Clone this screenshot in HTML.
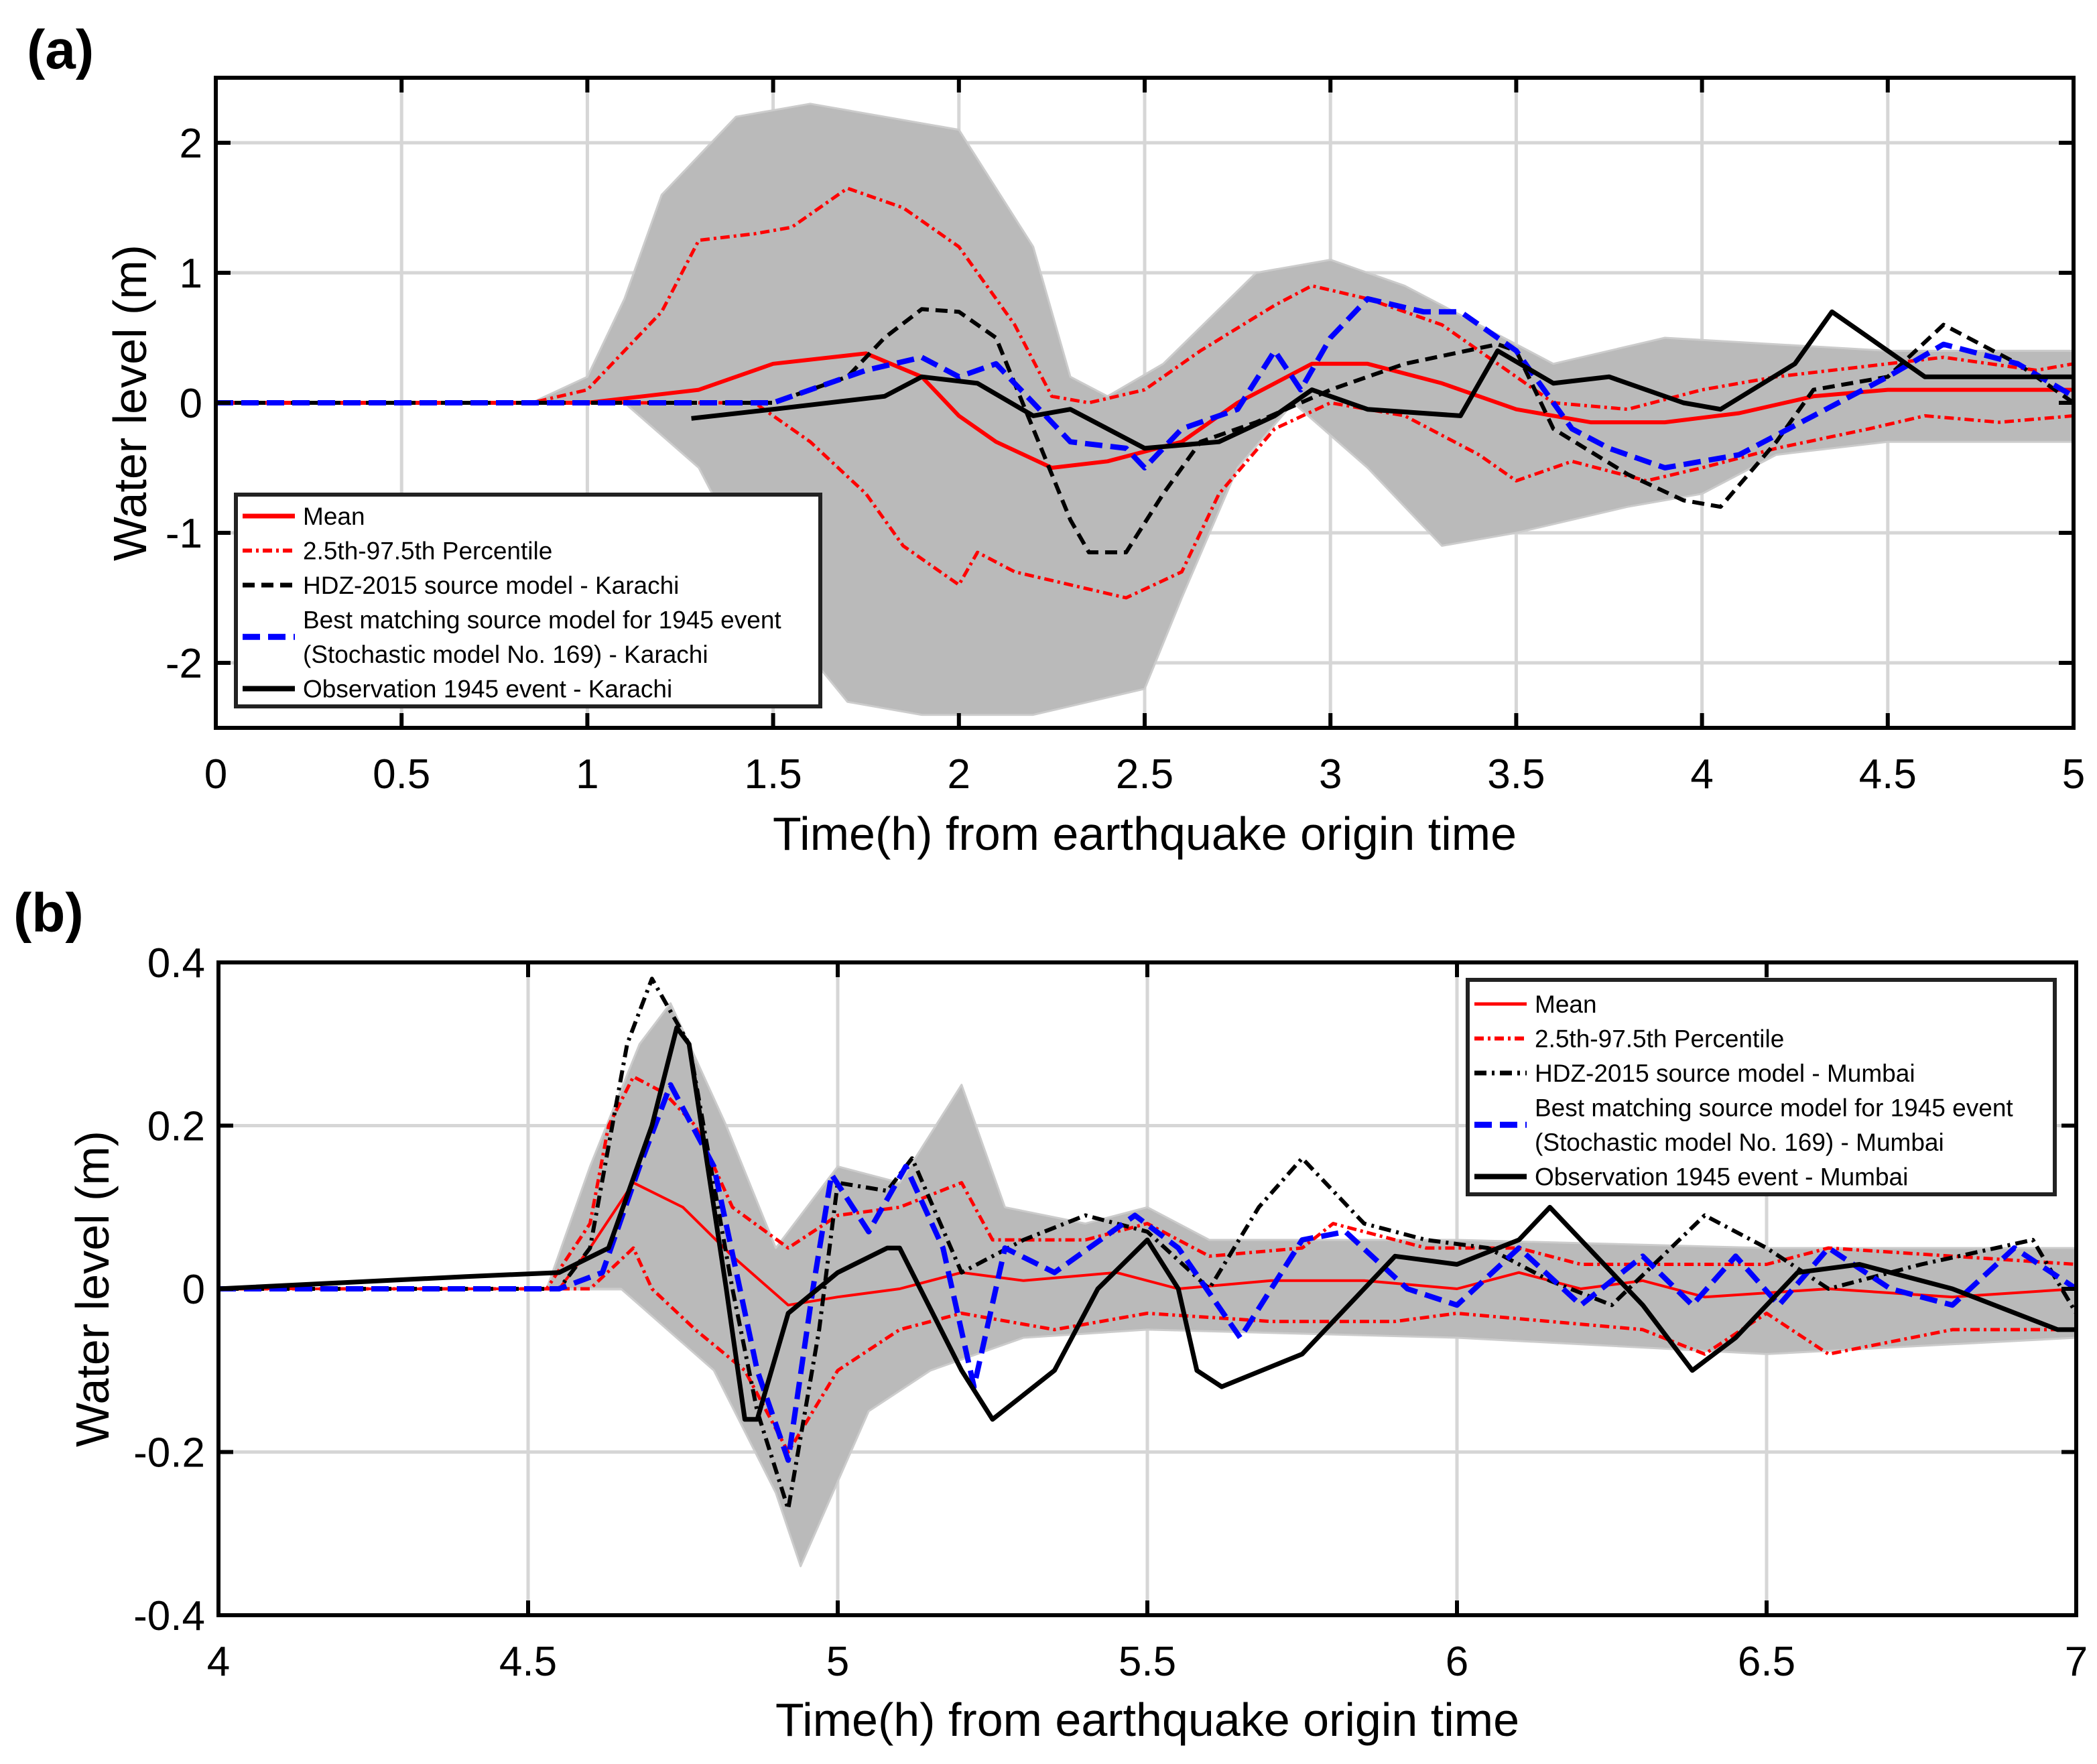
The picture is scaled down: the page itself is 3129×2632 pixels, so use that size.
<!DOCTYPE html>
<html><head><meta charset="utf-8"><style>
html,body{margin:0;padding:0;background:#fff}
svg{display:block}
text{font-family:"Liberation Sans",sans-serif}
</style></head><body>
<svg id="fig" width="3129" height="2632" viewBox="0 0 3129 2632" xmlns="http://www.w3.org/2000/svg">
<text x="40" y="102" font-size="82" font-weight="bold">(a)</text>
<text x="20" y="1390" font-size="82" font-weight="bold">(b)</text>
<g id="pa"></g>
<g id="pb"></g>
</svg>
<script>
// ---------- Panel (a) data: Karachi ----------
const aEnvUpT=[0,0.85,1.0,1.1,1.2,1.4,1.6,2.0,2.2,2.3,2.4,2.55,2.8,3.0,3.2,3.4,3.6,3.9,4.2,4.5,5];
const aEnvUpV=[0,0,0.2,0.8,1.6,2.2,2.3,2.1,1.2,0.2,0.05,0.3,1.0,1.1,0.9,0.6,0.3,0.5,0.45,0.4,0.4];
const aEnvLoT=[0,1.1,1.3,1.5,1.7,1.9,2.2,2.5,2.6,2.75,2.9,3.1,3.3,3.5,3.8,4.0,4.2,4.5,5];
const aEnvLoV=[0,0,-0.5,-1.6,-2.3,-2.4,-2.4,-2.2,-1.5,-0.5,0,-0.5,-1.1,-1.0,-0.8,-0.7,-0.4,-0.3,-0.3];
const aMeanT=[0,1.0,1.3,1.5,1.75,1.9,2.0,2.1,2.25,2.4,2.6,2.75,2.95,3.1,3.3,3.5,3.7,3.9,4.1,4.3,4.5,5];
const aMeanV=[0,0,0.1,0.3,0.38,0.2,-0.1,-0.3,-0.5,-0.45,-0.3,0,0.3,0.3,0.15,-0.05,-0.15,-0.15,-0.08,0.05,0.1,0.1];
const aUpT=[0,0.85,1.0,1.1,1.2,1.3,1.45,1.55,1.7,1.85,2.0,2.15,2.25,2.35,2.5,2.65,2.85,2.95,3.1,3.3,3.5,3.6,3.8,4.0,4.2,4.5,4.65,4.9,5];
const aUpV=[0,0,0.1,0.4,0.7,1.25,1.3,1.35,1.65,1.5,1.2,0.6,0.05,0.0,0.1,0.4,0.75,0.9,0.8,0.6,0.2,0.0,-0.05,0.1,0.2,0.3,0.35,0.25,0.3];
const aLoT=[0,1.45,1.6,1.75,1.85,2.0,2.05,2.15,2.45,2.6,2.7,2.85,3.0,3.2,3.4,3.5,3.65,3.85,4.0,4.2,4.45,4.6,4.8,5];
const aLoV=[0,0,-0.3,-0.7,-1.1,-1.4,-1.15,-1.3,-1.5,-1.3,-0.7,-0.2,0,-0.1,-0.4,-0.6,-0.45,-0.6,-0.5,-0.35,-0.2,-0.1,-0.15,-0.1];
const aHdzT=[0,1.5,1.7,1.8,1.9,2.0,2.1,2.2,2.3,2.35,2.45,2.55,2.65,2.8,3.0,3.2,3.45,3.5,3.6,3.8,3.95,4.05,4.2,4.3,4.5,4.65,4.85,5];
const aHdzV=[0,0,0.2,0.5,0.72,0.7,0.5,-0.2,-0.9,-1.15,-1.15,-0.7,-0.3,-0.15,0.1,0.3,0.45,0.4,-0.2,-0.55,-0.75,-0.8,-0.3,0.1,0.2,0.6,0.3,0];
const aBlueT=[0,1.5,1.6,1.75,1.9,2.0,2.1,2.2,2.3,2.45,2.5,2.6,2.75,2.85,2.92,3.0,3.1,3.25,3.35,3.5,3.65,3.75,3.9,4.1,4.3,4.5,4.65,4.85,5];
const aBlueV=[0,0,0.1,0.25,0.35,0.2,0.3,0.0,-0.3,-0.35,-0.5,-0.2,-0.05,0.4,0.1,0.5,0.8,0.7,0.7,0.4,-0.2,-0.35,-0.5,-0.4,-0.1,0.2,0.45,0.3,0.05];
const aObsT=[1.28,1.5,1.8,1.9,2.05,2.2,2.3,2.5,2.7,2.85,2.95,3.1,3.35,3.45,3.6,3.75,3.95,4.05,4.25,4.35,4.45,4.6,5];
const aObsV=[-0.12,-0.05,0.05,0.2,0.15,-0.1,-0.05,-0.35,-0.3,-0.1,0.1,-0.05,-0.1,0.4,0.15,0.2,0.0,-0.05,0.3,0.7,0.5,0.2,0.2];
const aXTicks=[0,0.5,1,1.5,2,2.5,3,3.5,4,4.5,5];
const aXLabels=["0","0.5","1","1.5","2","2.5","3","3.5","4","4.5","5"];
const aYTicks=[-2,-1,0,1,2];
const aYLabels=["-2","-1","0","1","2"];

// ---------- Panel (b) data: Mumbai ----------
const bEnvUpT=[4,4.53,4.6,4.68,4.73,4.82,4.9,5.0,5.1,5.2,5.27,5.4,5.5,5.6,6.0,6.5,7];
const bEnvUpV=[0,0,0.15,0.3,0.35,0.2,0.05,0.15,0.13,0.25,0.1,0.08,0.1,0.06,0.06,0.05,0.05];
const bEnvLoT=[4,4.6,4.65,4.8,4.9,4.94,5.05,5.15,5.3,5.5,6.0,6.5,7];
const bEnvLoV=[0,0,0,-0.1,-0.25,-0.34,-0.15,-0.1,-0.06,-0.05,-0.06,-0.08,-0.06];
const bMeanT=[4,4.55,4.6,4.67,4.75,4.83,4.92,5.0,5.1,5.2,5.3,5.45,5.55,5.7,5.85,6.0,6.1,6.2,6.3,6.4,6.6,6.8,7];
const bMeanV=[0,0,0.05,0.13,0.1,0.04,-0.02,-0.01,0,0.02,0.01,0.02,0,0.01,0.01,0,0.02,0,0.01,-0.01,0,-0.01,0];
const bUpT=[4,4.53,4.6,4.63,4.67,4.72,4.77,4.83,4.92,5.0,5.1,5.2,5.25,5.4,5.5,5.6,5.75,5.8,5.95,6.1,6.2,6.5,6.6,7];
const bUpV=[0,0,0.08,0.2,0.26,0.24,0.2,0.1,0.05,0.09,0.1,0.13,0.06,0.06,0.08,0.04,0.05,0.08,0.05,0.05,0.03,0.03,0.05,0.03];
const bLoT=[4,4.6,4.67,4.7,4.77,4.85,4.92,5.0,5.1,5.2,5.35,5.5,5.7,5.9,6.0,6.3,6.4,6.5,6.6,6.8,7];
const bLoV=[0,0,0.05,0,-0.05,-0.1,-0.2,-0.1,-0.05,-0.03,-0.05,-0.03,-0.04,-0.04,-0.03,-0.05,-0.08,-0.03,-0.08,-0.05,-0.05];
const bHdzT=[4,4.55,4.6,4.66,4.7,4.76,4.83,4.87,4.92,4.97,5.0,5.08,5.12,5.2,5.3,5.4,5.5,5.6,5.68,5.75,5.85,5.95,6.05,6.15,6.25,6.4,6.5,6.6,6.75,6.93,7];
const bHdzV=[0,0,0.05,0.3,0.38,0.3,0,-0.15,-0.27,-0.05,0.13,0.12,0.16,0.02,0.06,0.09,0.07,0,0.1,0.16,0.08,0.06,0.05,0.01,-0.02,0.09,0.05,0,0.03,0.06,-0.03];
const bBlueT=[4,4.55,4.62,4.68,4.73,4.8,4.87,4.92,4.96,4.99,5.05,5.11,5.17,5.22,5.27,5.35,5.48,5.55,5.65,5.75,5.82,5.92,6.0,6.1,6.2,6.3,6.38,6.45,6.52,6.6,6.7,6.8,6.9,7];
const bBlueV=[0,0,0.02,0.15,0.25,0.15,-0.1,-0.21,0,0.14,0.07,0.15,0.05,-0.12,0.05,0.02,0.09,0.05,-0.06,0.06,0.07,0,-0.02,0.05,-0.02,0.04,-0.02,0.04,-0.02,0.05,0,-0.02,0.05,0];
const bObsT=[4,4.4,4.55,4.63,4.7,4.74,4.76,4.82,4.85,4.87,4.92,5.0,5.08,5.1,5.2,5.25,5.35,5.42,5.5,5.55,5.58,5.62,5.75,5.9,6.0,6.1,6.15,6.3,6.38,6.45,6.55,6.65,6.8,6.97,7];
const bObsV=[0,0.015,0.02,0.05,0.2,0.32,0.3,0,-0.16,-0.16,-0.03,0.02,0.05,0.05,-0.1,-0.16,-0.1,0,0.06,0,-0.1,-0.12,-0.08,0.04,0.03,0.06,0.1,-0.02,-0.1,-0.06,0.02,0.03,0,-0.05,-0.05];
const bXTicks=[4,4.5,5,5.5,6,6.5,7];
const bXLabels=["4","4.5","5","5.5","6","6.5","7"];
const bYTicks=[-0.4,-0.2,0,0.2,0.4];
const bYLabels=["-0.4","-0.2","0","0.2","0.4"];

const NS="http://www.w3.org/2000/svg";
function mk(tag,attrs,parent){const e=document.createElementNS(NS,tag);for(const k in attrs)e.setAttribute(k,attrs[k]);parent.appendChild(e);return e;}

function panel(g,cfg){
  const {L,R,T,B,x0,x1,y0,y1}=cfg;
  const sx=v=>L+(v-x0)/(x1-x0)*(R-L);
  const sy=v=>B-(v-y0)/(y1-y0)*(B-T);
  const pts=(ts,vs)=>ts.map((t,i)=>sx(t).toFixed(1)+","+sy(vs[i]).toFixed(1)).join(" ");
  cfg.xt.forEach(t=>{const l=mk("line",{x1:sx(t),x2:sx(t),y1:T,y2:B,stroke:"#d6d6d6","stroke-width":5},g);
    
    });
  cfg.yt.forEach(t=>{const l=mk("line",{x1:L,x2:R,y1:sy(t),y2:sy(t),stroke:"#d6d6d6","stroke-width":5},g);
    
    });
  const env=mk("polygon",{points:pts(cfg.euT,cfg.euV)+" "+pts(cfg.elT.slice().reverse(),cfg.elV.slice().reverse()),fill:"#bababa",stroke:"#cccccc","stroke-width":3,"stroke-linejoin":"round"},g);
  
  
  const series=[
    ["percentile-upper",cfg.upT,cfg.upV,"#ff0000",5,cfg.pctDash],
    ["percentile-lower",cfg.loT,cfg.loV,"#ff0000",5,cfg.pctDash],
    ["mean-line",cfg.mT,cfg.mV,"#ff0000",cfg.meanW,""],
    ["hdz-2015-line",cfg.hT,cfg.hV,"#000",6,cfg.hdzDash],
    ["best-match-169-line",cfg.bT,cfg.bV,"#0000ff",8,"26,12"],
    ["observation-1945-line",cfg.oT,cfg.oV,"#000",7,""]
  ];
  series.forEach(s=>{
    const p=mk("polyline",{points:pts(s[1],s[2]),fill:"none",stroke:s[3],"stroke-width":s[4],"stroke-linejoin":"round"},g);
    if(s[5])p.setAttribute("stroke-dasharray",s[5]);
    
    
  });
  const box=mk("rect",{x:L,y:T,width:R-L,height:B-T,fill:"none",stroke:"#000","stroke-width":6},g);
  
  
  cfg.xt.forEach((t,i)=>{
    mk("line",{x1:sx(t),x2:sx(t),y1:B,y2:B-22,stroke:"#000","stroke-width":6},g);
    mk("line",{x1:sx(t),x2:sx(t),y1:T,y2:T+22,stroke:"#000","stroke-width":6},g);
    const tx=mk("text",{x:sx(t),y:B+90,"font-size":62,"text-anchor":"middle"},g);
    tx.textContent=cfg.xl[i];
    
    
  });
  cfg.yt.forEach((t,i)=>{
    mk("line",{x1:L,x2:L+22,y1:sy(t),y2:sy(t),stroke:"#000","stroke-width":6},g);
    mk("line",{x1:R,x2:R-22,y1:sy(t),y2:sy(t),stroke:"#000","stroke-width":6},g);
    const tx=mk("text",{x:L-20,y:sy(t)+22,"font-size":62,"text-anchor":"end"},g);
    tx.textContent=cfg.yl[i];
    
    
  });
  const xt=mk("text",{x:(L+R)/2,y:cfg.xTitleY,"font-size":70,"text-anchor":"middle"},g);
  xt.textContent="Time(h) from earthquake origin time";
  
  
  const yt=mk("text",{x:0,y:0,"font-size":70,"text-anchor":"middle",transform:`translate(${cfg.yTitleX},${(T+B)/2}) rotate(-90)`},g);
  yt.textContent="Water level (m)";
  
  
  const lg=mk("g",{},g);
  
  
  const lb=mk("rect",{x:cfg.lg.x,y:cfg.lg.y,width:cfg.lg.w,height:cfg.lg.h,fill:"#fff",stroke:"#222","stroke-width":6},lg);
  
  
  const ents=[["Mean","#ff0000",cfg.meanW+1,"",0],["2.5th-97.5th Percentile","#ff0000",6,cfg.pctDash,1],["HDZ-2015 source model - "+cfg.city,"#000",7,cfg.hdzDash,2],["Best matching source model for 1945 event","#0000ff",9,"26,12",3.5],["Observation 1945 event - "+cfg.city,"#000",8,"",5]];
  ents.forEach(e=>{
    const y=cfg.lg.y+cfg.lg.r0+e[4]*cfg.lg.dr;
    const l=mk("line",{x1:cfg.lg.x+10,x2:cfg.lg.x+88,y1:y,y2:y,stroke:e[1],"stroke-width":e[2]},lg);
    if(e[3])l.setAttribute("stroke-dasharray",e[3]);
    
    
  });
  const labs=["Mean","2.5th-97.5th Percentile","HDZ-2015 source model - "+cfg.city,"Best matching source model for 1945 event","(Stochastic model No. 169) - "+cfg.city,"Observation 1945 event - "+cfg.city];
  labs.forEach((s,i)=>{
    const t=mk("text",{x:cfg.lg.x+100,y:cfg.lg.y+cfg.lg.r0+i*cfg.lg.dr+13,"font-size":37},lg);
    t.textContent=s;
    
    
  });
}

panel(document.getElementById("pa"),{L:322,R:3094,T:116,B:1086,x0:0,x1:5,y0:-2.5,y1:2.5,
  xt:aXTicks,xl:aXLabels,yt:aYTicks,yl:aYLabels,
  euT:aEnvUpT,euV:aEnvUpV,elT:aEnvLoT,elV:aEnvLoV,mT:aMeanT,mV:aMeanV,upT:aUpT,upV:aUpV,loT:aLoT,loV:aLoV,
  hT:aHdzT,hV:aHdzV,bT:aBlueT,bV:aBlueV,oT:aObsT,oV:aObsV,
  pctDash:"14,6,4,6",hdzDash:"18,10",meanW:6,xTitleY:1268,yTitleX:218,city:"Karachi",
  lg:{x:352,y:738,w:872,h:316,r0:32,dr:51.5}});
panel(document.getElementById("pb"),{L:326,R:3098,T:1436,B:2410,x0:4,x1:7,y0:-0.4,y1:0.4,
  xt:bXTicks,xl:bXLabels,yt:bYTicks,yl:bYLabels,
  euT:bEnvUpT,euV:bEnvUpV,elT:bEnvLoT,elV:bEnvLoV,mT:bMeanT,mV:bMeanV,upT:bUpT,upV:bUpV,loT:bLoT,loV:bLoV,
  hT:bHdzT,hV:bHdzV,bT:bBlueT,bV:bBlueV,oT:bObsT,oV:bObsV,
  pctDash:"14,6,4,6",hdzDash:"18,8,4,8",meanW:4,xTitleY:2590,yTitleX:162,city:"Mumbai",
  lg:{x:2190,y:1462,w:876,h:320,r0:36,dr:51.5}});
</script>
</body></html>
